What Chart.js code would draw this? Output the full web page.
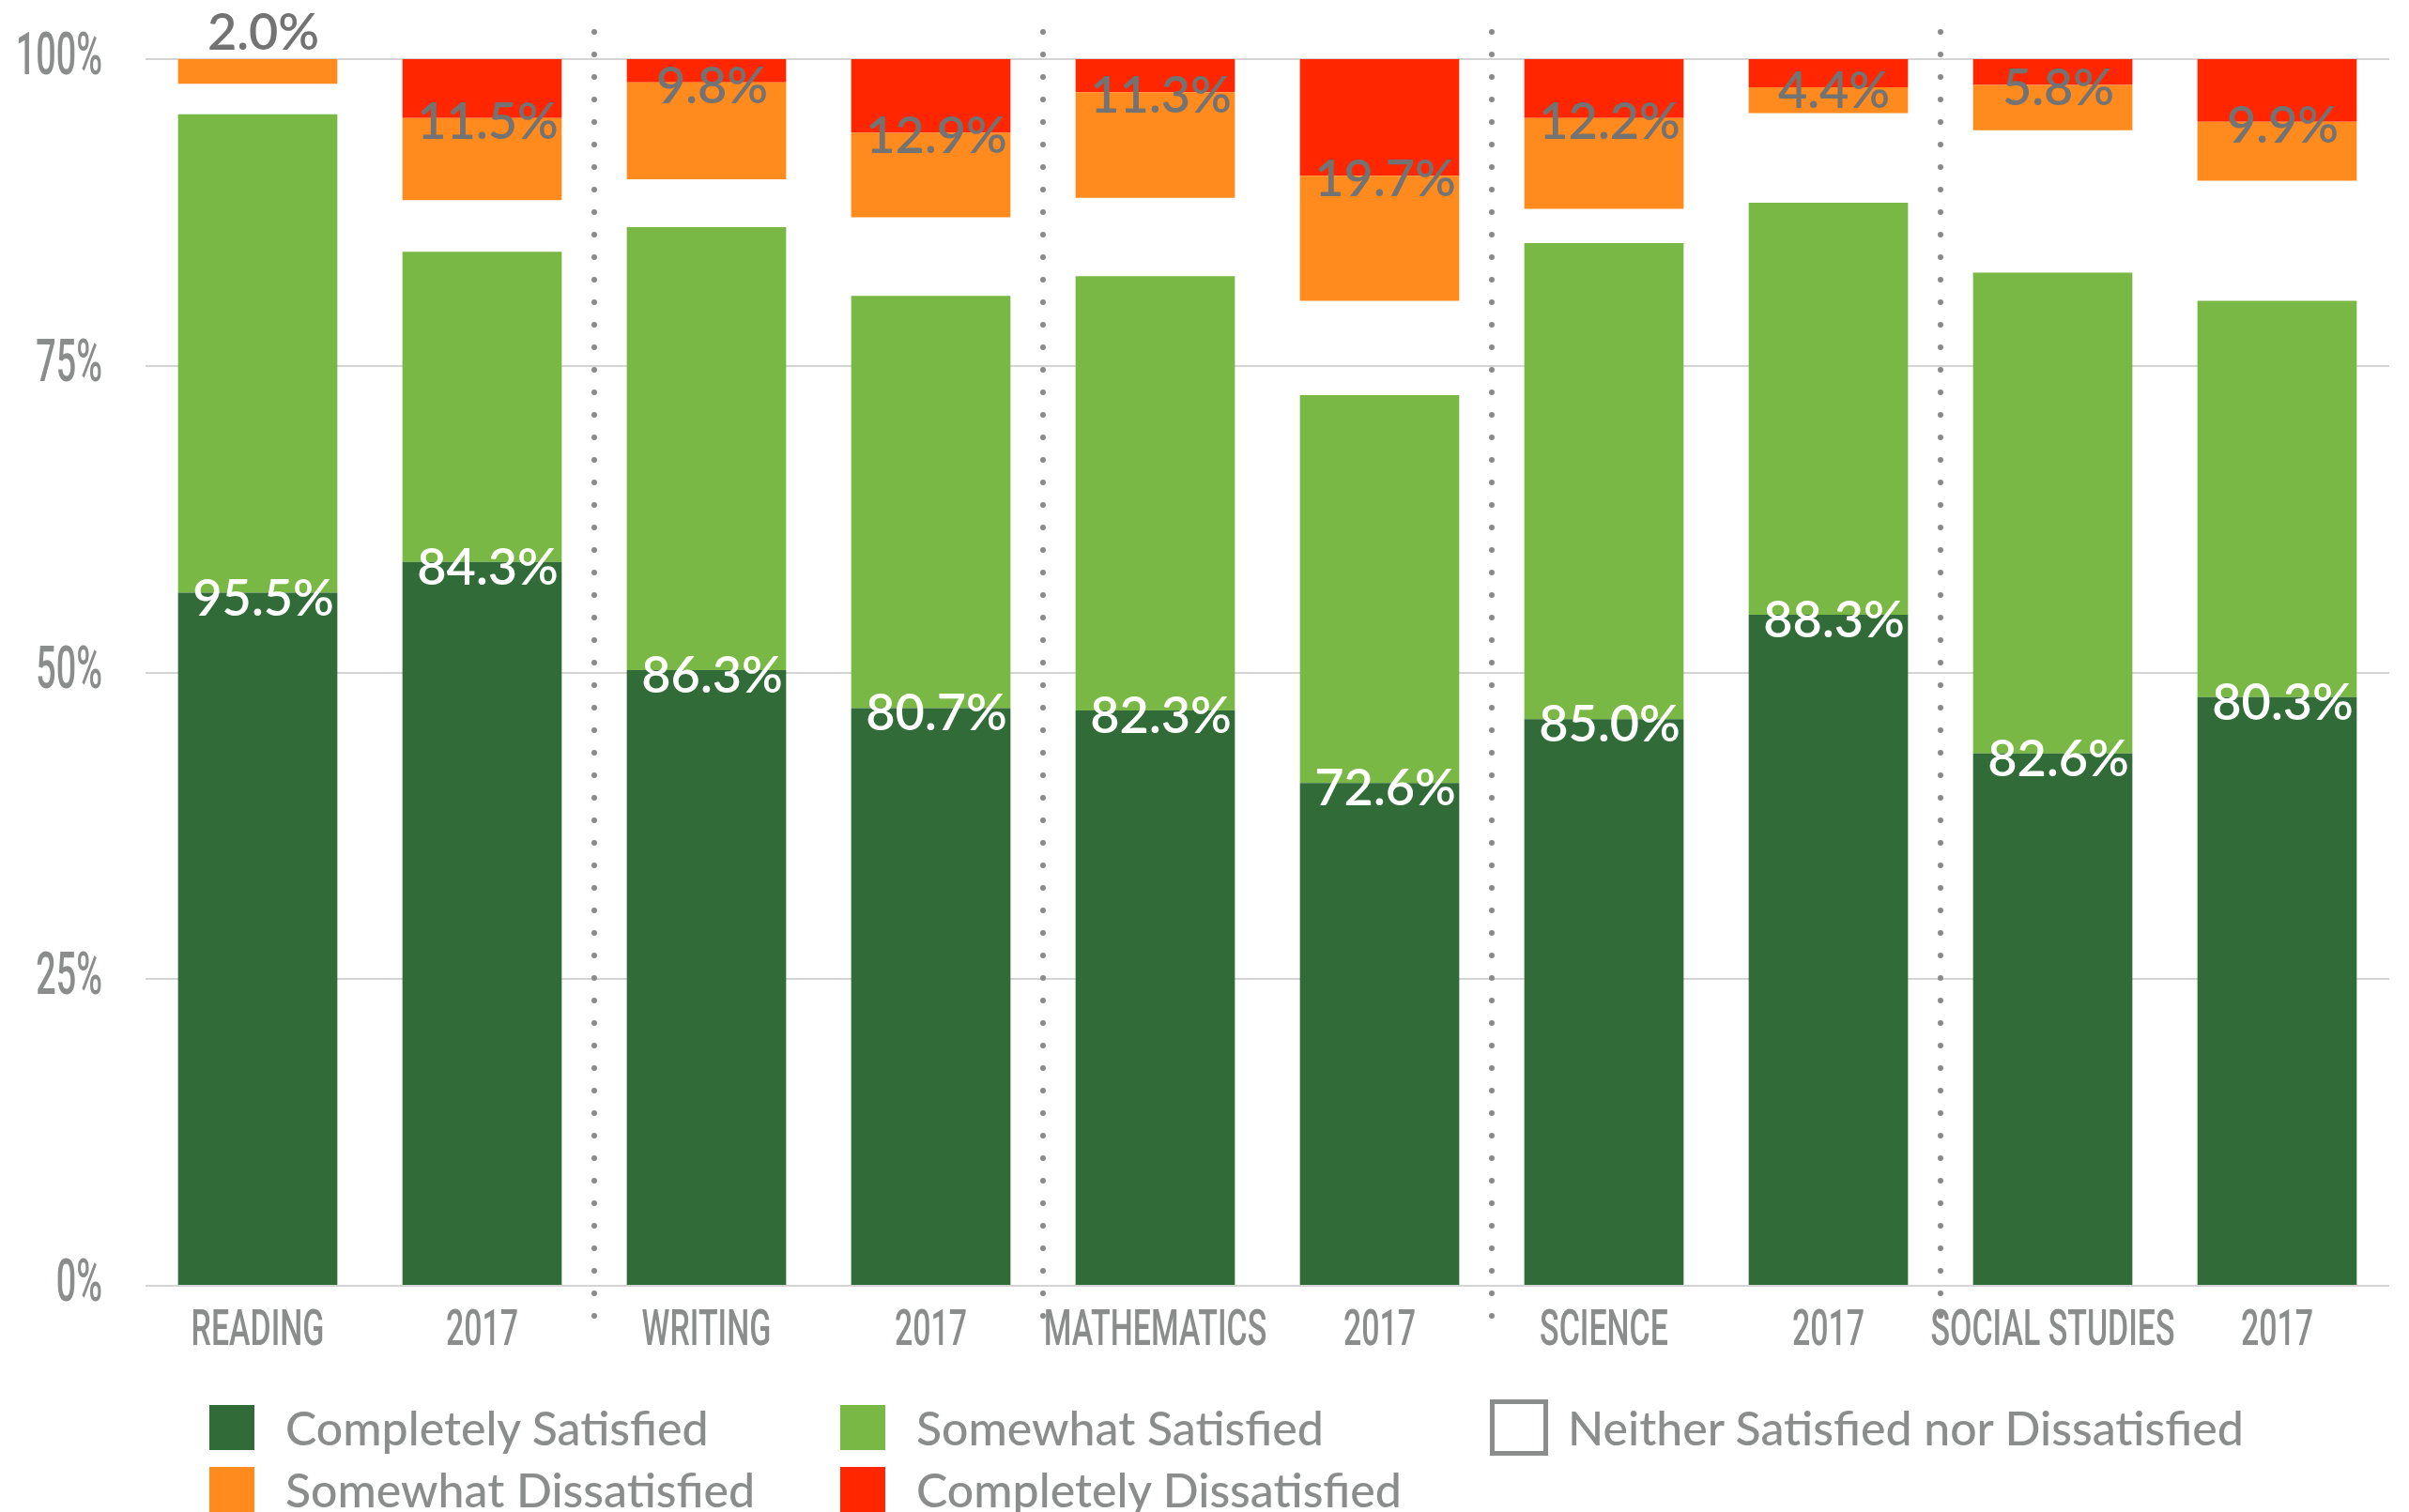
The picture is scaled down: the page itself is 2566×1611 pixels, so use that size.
<!DOCTYPE html>
<html>
<head>
<meta charset="utf-8">
<script src="https://cdn.jsdelivr.net/npm/chart.js@4.4.0/dist/chart.umd.min.js"></script>
<style>
  html, body { margin: 0; padding: 0; background: #fff; }
  #wrap { position: relative; width: 2566px; height: 1611px; overflow: hidden; }
  #chart { position: absolute; left: 0; top: 0; }
  #legend {
    position: absolute; left: 223px; top: 1497px;
    display: grid; grid-template-columns: 672px 692px auto; row-gap: 18px;
    font-family: Lato, "Open Sans", sans-serif; font-size: 50px; font-weight: 500; color: #8a8d8c;
  }
  .item { display: flex; align-items: center; height: 48px; white-space: nowrap; }
  .box { width: 48px; height: 48px; margin-right: 33px; box-sizing: border-box; flex: none; }
  .box.empty { width: 62px; height: 60px; margin-right: 21px; border: 5px solid #8a8d8c; background: #fff; }
</style>
</head>
<body>
<div id="wrap">
  <canvas id="chart" width="2566" height="1611"></canvas>
  <div id="legend"></div>
</div>
<script>
const categories = ["READING", "2017", "WRITING", "2017", "MATHEMATICS", "2017", "SCIENCE", "2017", "SOCIAL STUDIES", "2017"];

// percentages
const completelySatisfied = [56.5, 59.0, 50.2, 47.1, 46.9, 41.0, 46.2, 54.7, 43.4, 48.0];
const somewhatSatisfied = [39.0, 25.3, 36.1, 33.6, 35.4, 31.6, 38.8, 33.6, 39.2, 32.3];
const neither = [2.5, 4.2, 3.9, 6.4, 6.4, 7.7, 2.8, 7.3, 11.6, 9.8];
const somewhatDissatisfied = [2.0, 6.7, 7.9, 6.9, 8.6, 10.2, 7.4, 2.1, 3.7, 4.8];
const completelyDissatisfied = [0, 4.8, 1.9, 6.0, 2.7, 9.5, 4.8, 2.3, 2.1, 5.1];

// printed totals
const satisfiedTotal = [95.5, 84.3, 86.3, 80.7, 82.3, 72.6, 85.0, 88.3, 82.6, 80.3];
const dissatisfiedTotal = [2.0, 11.5, 9.8, 12.9, 11.3, 19.7, 12.2, 4.4, 5.8, 9.9];

const yTicks = [0, 25, 50, 75, 100];
const yTickLabels = ["0%", "25%", "50%", "75%", "100%"];

const seriesNames = ["Completely Satisfied", "Somewhat Satisfied", "Neither Satisfied nor Dissatisfied", "Somewhat Dissatisfied", "Completely Dissatisfied"];
const seriesColors = ["#316b38", "#7ab845", "rgba(0,0,0,0)", "#ff8a1d", "#ff2600"];
const legendOrder = [0, 1, 2, 3, 4];

const axisGray = "#8a8d8c";

function squeezed(ctx, text, x, y, sx) {
  ctx.save();
  ctx.translate(x, y);
  ctx.scale(sx, 1);
  ctx.fillText(text, 0, 0);
  ctx.restore();
}

// condensed axis text, placed from the chart's own scales
const axisText = {
  id: "axisText",
  afterDraw(chart) {
    const ctx = chart.ctx;
    const xs = chart.scales.x;
    const ys = chart.scales.y;
    ctx.save();
    ctx.fillStyle = axisGray;
    ctx.textBaseline = "alphabetic";

    ctx.font = "500 63px Roboto";
    ctx.textAlign = "right";
    ys.ticks.forEach((t, i) => {
      squeezed(ctx, t.label, 109, ys.getPixelForTick(i) + 16, 0.6);
    });

    ctx.font = "500 53px Roboto";
    ctx.textAlign = "center";
    xs.ticks.forEach((t, i) => {
      squeezed(ctx, categories[i], xs.getPixelForTick(i), chart.chartArea.bottom + 63, 0.64);
    });
    ctx.restore();
  }
};

// dotted separators between the subject pairs
const separators = {
  id: "separators",
  afterDraw(chart) {
    const ctx = chart.ctx;
    const xs = chart.scales.x;
    const ys = chart.scales.y;
    const top = ys.getPixelForValue(100) - 29;
    const bottom = ys.getPixelForValue(0) + 33;
    ctx.save();
    ctx.fillStyle = "#8a8a8a";
    for (let i = 1; i < categories.length - 1; i += 2) {
      const x = (xs.getPixelForValue(i) + xs.getPixelForValue(i + 1)) / 2;
      for (let y = top; y <= bottom + 1; y += 24) {
        ctx.beginPath();
        ctx.arc(x, y, 3, 0, Math.PI * 2);
        ctx.fill();
      }
    }
    ctx.restore();
  }
};

const valueLabels = {
  id: "valueLabels",
  afterDatasetsDraw(chart) {
    const ctx = chart.ctx;
    const ys = chart.scales.y;
    const dark = chart.getDatasetMeta(0).data;
    const orange = chart.getDatasetMeta(3).data;
    ctx.save();
    ctx.font = "600 54px Lato";
    ctx.textAlign = "center";
    ctx.textBaseline = "alphabetic";
    categories.forEach((c, i) => {
      const x = dark[i].x + 6;
      ctx.fillStyle = "#ffffff";
      ctx.fillText(satisfiedTotal[i].toFixed(1) + "%", x, dark[i].y + 24);
      ctx.fillStyle = "#737373";
      const y = completelyDissatisfied[i] > 0 ? orange[i].y + 22 : ys.getPixelForValue(100) - 10;
      ctx.fillText(dissatisfiedTotal[i].toFixed(1) + "%", x, y);
    });
    ctx.restore();
  }
};

const seriesData = [completelySatisfied, somewhatSatisfied, neither, somewhatDissatisfied, completelyDissatisfied];

const chart = new Chart(document.getElementById("chart").getContext("2d"), {
  type: "bar",
  data: {
    labels: categories,
    datasets: seriesData.map((d, i) => ({
      label: seriesNames[i],
      data: d,
      backgroundColor: seriesColors[i],
      borderWidth: 0,
      barPercentage: 0.71,
      categoryPercentage: 1,
    })),
  },
  options: {
    responsive: false,
    animation: false,
    layout: { padding: { top: 63, right: 21, bottom: 141, left: 0 } },
    plugins: {
      legend: { display: false },
      tooltip: { enabled: false },
    },
    scales: {
      x: {
        stacked: true,
        grid: { display: false },
        border: { display: false },
        ticks: { display: false },
        afterFit: s => { s.height = 100; },
      },
      y: {
        stacked: true,
        min: 0,
        max: 100,
        afterBuildTicks: s => { s.ticks = yTicks.map(v => ({ value: v })); },
        ticks: {
          display: false,
          callback: v => yTickLabels[yTicks.indexOf(v)],
        },
        grid: { color: "#d4d4d4", lineWidth: 2, drawTicks: false },
        border: { display: false },
        afterFit: s => { s.width = 155; },
      },
    },
  },
  plugins: [valueLabels, separators, axisText],
});

// legend laid out like the original: three columns, two rows
const legend = document.getElementById("legend");
legendOrder.forEach(i => {
  const item = document.createElement("div");
  item.className = "item";
  const box = document.createElement("span");
  box.className = "box";
  if (i === 2) box.classList.add("empty");
  else box.style.background = seriesColors[i];
  const txt = document.createElement("span");
  txt.textContent = seriesNames[i];
  item.appendChild(box);
  item.appendChild(txt);
  legend.appendChild(item);
});
</script>
</body>
</html>
